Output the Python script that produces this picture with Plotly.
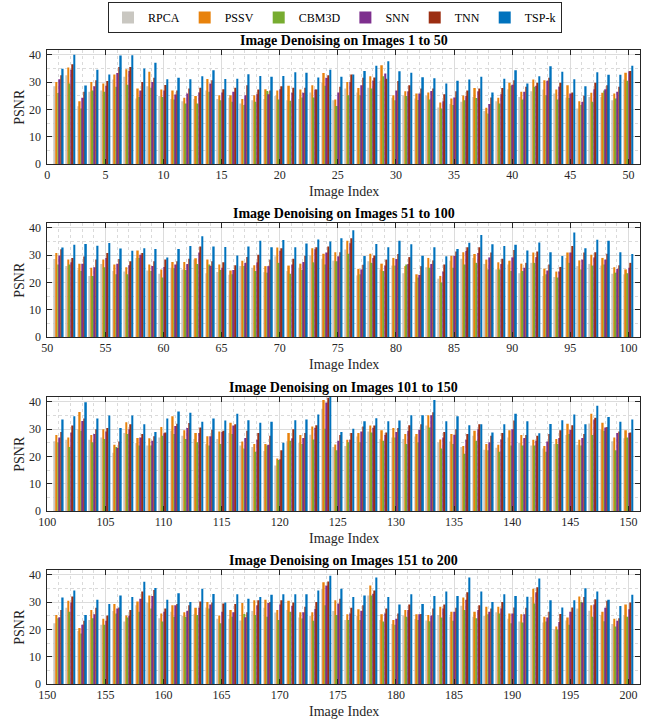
import plotly.graph_objects as go

methods = ["RPCA", "PSSV", "CBM3D", "SNN", "TNN", "TSP-k"]
colors = ["#C9C7C1", "#E8820C", "#77AC30", "#7E2F8E", "#9C2E12", "#0072BD"]

rpca = [28.5, 32.6, 21.2, 26.5, 27, 31, 32, 24, 28.5, 24.9,
        23.8, 23, 23.8, 27, 23.8, 24.3, 22.2, 23.4, 23.8, 24.9,
        23.4, 23.8, 26.2, 29.8, 23.4, 27.7, 26.2, 28, 30.5, 24.3,
        25, 24, 24.9, 20.7, 22, 22.8, 24.6, 19.4, 23, 27.4,
        24.6, 26.7, 27.3, 25.9, 24.4, 20.4, 24.6, 24.6, 23.4, 31,
        28.6, 26, 24.8, 22.4, 26.8, 24.2, 24, 29, 24.4, 23.2,
        25.4, 24.8, 28.4, 23.4, 23.8, 22.8, 26, 25.4, 23.8, 29.6,
        24.2, 25.4, 29.9, 28.7, 28, 32.1, 22.6, 27.8, 24.8, 26.2,
        23.4, 20.2, 25.6, 21.4, 28, 28.7, 29, 26.8, 24.8, 26.6,
        23.4, 27.2, 22.4, 22, 29, 26, 26.8, 26.2, 23.2, 23,
        25.6, 26.1, 30, 26.1, 27, 21.4, 28.6, 24.9, 24, 27,
        29.4, 27.6, 26.4, 24.6, 26.4, 28.6, 24, 23.5, 22, 16.7,
        25.6, 25, 28, 37.5, 23.5, 23.8, 27.3, 29.2, 26.4, 27,
        26.4, 27.3, 31.4, 25, 25.5, 23.5, 27.6, 22.5, 23.2, 27,
        25, 24, 22.9, 24.6, 27.9, 24.3, 32.1, 29.8, 25.6, 26.7,
        22.3, 28, 19.4, 23.5, 21.7, 26.8, 22.9, 28.9, 29.7, 24.1,
        26.5, 25, 25.6, 28.1, 23.9, 23.9, 23.3, 26.8, 28, 26.2,
        27.1, 24.4, 25, 34.9, 26.8, 23.5, 25, 32.5, 23.5, 22,
        25, 23.8, 23.3, 25.3, 24.7, 28.7, 24.7, 25, 26.3, 23.9,
        22.9, 31.9, 22.6, 20, 23.3, 27.7, 26.9, 25.1, 22, 25.1]

pssv = [30.1, 35.4, 23, 30.1, 29.5, 32.8, 34.8, 27.7, 33.8, 27.3,
        27, 24.3, 24.9, 31.2, 25.2, 25.2, 23.8, 25.2, 27.4, 27,
        28.7, 27.3, 28.9, 33.4, 23.7, 30.1, 27.9, 32.2, 36.2, 25.2,
        26.7, 25.9, 26.2, 22.6, 24, 25.1, 27.9, 20.6, 24.3, 29.8,
        26.5, 31, 30.7, 27.3, 28.9, 23, 26.1, 26.1, 25.9, 33.5,
        30.8, 28.4, 26.9, 25.4, 28.4, 26.6, 25.6, 31.7, 26.6, 24.8,
        27.5, 27.5, 28.9, 28.4, 26.6, 24.4, 28, 26.3, 26, 32.8,
        26.2, 26.9, 32.6, 30.5, 31.1, 35.3, 25, 30.5, 26.9, 29,
        26, 23, 29, 22.4, 29.8, 31.1, 30.4, 28.4, 27.4, 28,
        26.9, 31, 25.1, 24, 31, 28.1, 30.2, 29, 25.6, 24.8,
        27.9, 27, 36.3, 27.9, 30, 24.3, 32.6, 26.8, 26.7, 30.8,
        34.8, 29.6, 28.6, 27.4, 29.2, 32.4, 25.5, 24.6, 24.6, 19.3,
        28.6, 27.9, 31, 40.7, 24.4, 26.1, 28.6, 31.4, 29.6, 30.4,
        28.2, 28.2, 35.1, 26.2, 28.2, 23.8, 29.4, 24.6, 24.3, 29.6,
        27.9, 26.1, 23.8, 26.4, 32, 26.1, 35.7, 32.4, 27, 29.6,
        25.3, 30.5, 20.5, 27.1, 23.9, 29.3, 25.1, 30.3, 32.5, 25.9,
        28.9, 26.3, 28, 30.1, 25.1, 27.1, 29.7, 30.7, 30.9, 27.1,
        30.5, 26.3, 26.3, 37.3, 30.7, 25.6, 27.4, 36.1, 25.6, 23.5,
        27.1, 25.6, 25.3, 28.3, 26.5, 31.7, 26.5, 28.3, 28.3, 25.9,
        25.6, 34.9, 24.7, 21.1, 24.4, 32.1, 28.9, 26.5, 23.9, 29.2]

cbm3d = [26, 29.5, 20.4, 27, 26.5, 28.3, 29.1, 24.6, 28, 24.6,
         23.7, 22.2, 22.2, 26.5, 23.4, 22.8, 21.6, 22.8, 26.8, 23.7,
         23.2, 24.4, 24.4, 28.7, 21.3, 25.2, 25.2, 27.7, 32.2, 23.4,
         24.9, 23.5, 23.7, 20.4, 21.6, 23.4, 24.2, 18.5, 22.2, 28.7,
         23.7, 28.3, 25.2, 23.7, 24.2, 21.6, 22.8, 27, 24, 30.5,
         26.6, 26.6, 24.2, 22.4, 25.6, 23, 23, 29, 24.2, 21.8,
         25.2, 24.6, 26.8, 26.6, 24.6, 23, 26, 24.2, 23.6, 27.2,
         23.2, 24.6, 27.4, 26.6, 27.8, 30.5, 23, 27.2, 24.2, 26.2,
         26.6, 21.8, 25.4, 20, 25.4, 26.6, 27.2, 24.8, 24.8, 24.2,
         24.2, 27.2, 23, 21.8, 27.2, 24.8, 26.2, 26.6, 23.6, 23.4,
         25.2, 23.5, 29.4, 25.2, 26.4, 23.5, 28.2, 24, 24, 27.6,
         28.2, 26.4, 25.2, 24, 24.6, 28.2, 22.9, 21.7, 24, 18.7,
         25.8, 24.6, 26.2, 30.2, 22.3, 25.2, 25.2, 28.8, 25.8, 27,
         24.6, 25.2, 30.6, 22.9, 24.6, 21, 25.8, 22.3, 21.7, 24,
         24, 24, 21.7, 24.6, 28.2, 24, 27.9, 29.4, 22.3, 27,
         24.1, 26.5, 18.5, 24.1, 21.7, 25.9, 24.4, 26.5, 27.7, 22.9,
         24.7, 24.7, 25.3, 27.7, 22.3, 24.7, 25.7, 25.3, 24.7, 23.5,
         26.5, 24, 23.2, 28.9, 25.3, 23.5, 23.5, 32.5, 22.9, 21.7,
         24.7, 23.5, 23, 24.4, 23.2, 27.1, 24.1, 25.6, 25.9, 22.3,
         22.6, 29.5, 22.9, 20, 21.7, 30.1, 24.7, 23, 21.1, 24.7]

snn = [31.1, 34.6, 24.3, 28.5, 28.7, 33.4, 34.1, 27, 30.1, 27,
       25.5, 25.9, 26.2, 29.5, 26.2, 26.5, 25.2, 25.6, 25.6, 27.4,
       26.1, 26.1, 27.3, 31.6, 26.2, 30.1, 28.9, 30.5, 33.2, 27,
       26.7, 25.9, 26.8, 23, 24.4, 25, 26.7, 22, 25.6, 29.1,
       26.5, 28.7, 30.5, 28.3, 25.9, 22.8, 27.4, 27.4, 26.5, 34,
       29.9, 27.4, 26.9, 25.6, 29, 26.9, 26.3, 30.2, 26, 25.7,
       26.6, 26.8, 31, 26, 25.4, 24.6, 27.2, 27.4, 26, 31.6,
       26.6, 27.5, 32.2, 31, 29.6, 34.4, 24.8, 29, 26.2, 28.6,
       26.8, 22.8, 26.8, 24, 29.8, 31.6, 30.8, 29.2, 26.8, 29.2,
       25.4, 29.3, 24.4, 24, 31, 28.4, 29.2, 28.4, 25, 25.4,
       27, 28.8, 33, 28.2, 29.2, 23.1, 30, 27, 25.8, 28.5,
       31.2, 30.4, 28.6, 27.4, 29, 31.4, 26.8, 26.1, 24.3, 19,
       26.7, 26.8, 30.4, 39.8, 25.8, 26.1, 29.2, 30.4, 27.9, 29,
       29.4, 29.8, 35.1, 27, 28, 26.1, 30, 25.2, 26.2, 30,
       26.8, 25.8, 25.5, 26.8, 29.8, 26.8, 33.6, 30.6, 28.6, 28.6,
       24.5, 29.9, 21.7, 25.6, 23.2, 27.7, 25.1, 31.3, 32.3, 26.5,
       28.9, 26.9, 28, 29.2, 26.5, 26.3, 24.5, 28.9, 29.7, 29.2,
       28.7, 26.3, 27.5, 36.1, 29.5, 25.9, 26.9, 33.1, 25.9, 23.9,
       27.1, 25.6, 25.1, 27.7, 26.5, 30.9, 27.1, 26.5, 27.7, 25.9,
       25.6, 33.7, 24.4, 22.7, 26.5, 29.9, 29.2, 28, 23.2, 27.4]

tnn = [32.6, 36.6, 26.5, 30.7, 30.4, 35.6, 35.6, 30.1, 31.6, 29,
       27, 27.7, 28, 30.7, 27.4, 28, 28.9, 27.3, 27, 28.5,
       28, 28, 27.3, 32.6, 28.3, 32.8, 31.6, 31.7, 31.3, 30.4,
       28.9, 27.7, 27.7, 25.6, 26.7, 27, 27.7, 24.4, 27.9, 30.7,
       28.3, 29.8, 31.6, 29.8, 26.2, 25, 29.8, 28.9, 28.3, 34.1,
       32.2, 29, 29.5, 28.4, 30.8, 28.6, 27.8, 30.8, 27.8, 28.4,
       27.8, 28.7, 33.2, 27.8, 27.4, 26.3, 29.3, 30.2, 28.4, 32.6,
       28.7, 29.8, 32.9, 33.2, 31.1, 36.2, 26.5, 29.9, 28.4, 30.4,
       29.3, 26, 28.1, 26.6, 31.4, 32.9, 32.9, 31, 28.7, 31.9,
       27.2, 31.4, 26.6, 25.7, 33.4, 31, 31.1, 30.5, 26.3, 27.2,
       29, 31.4, 33.9, 30, 30.4, 25.5, 31.8, 28.2, 27.4, 28.8,
       32, 32.3, 30.6, 29.8, 29.4, 31.8, 29.4, 28.6, 27.6, 22.3,
       30, 28.6, 31.5, 41.5, 27.9, 28.6, 31, 31.4, 28.8, 30.4,
       31.5, 31.8, 36.2, 29, 30, 28.2, 31.8, 27.6, 28.6, 33.2,
       27.9, 27.6, 28.2, 29.6, 31.5, 28.2, 34.2, 30.8, 29.2, 28.8,
       27.1, 32.1, 23.2, 28, 25.1, 28.1, 27.1, 33.9, 34.5, 27.7,
       29.3, 28.9, 30.3, 29.9, 29.5, 29.3, 26.3, 30.7, 30.1, 30.7,
       29.9, 28.3, 30.1, 37.6, 31.3, 28, 28.9, 34.3, 27.7, 25.9,
       29.2, 25.7, 27.7, 29.2, 28, 33.7, 28.9, 27.7, 30.1, 28.1,
       28, 35.5, 26.5, 25.7, 28.1, 31.9, 31.1, 30.5, 24.1, 29.9]

tspk = [34.9, 40.1, 28.8, 34.6, 32.8, 39.8, 39.9, 35, 37.1, 31.1,
        31.6, 31.1, 32.2, 34.4, 31.2, 31.3, 32.9, 32.3, 32, 32.3,
        33.7, 33.5, 31.7, 34.6, 32, 32.8, 34.1, 36, 37.7, 34,
        33.5, 31.8, 31.5, 29.5, 30.5, 31, 32, 26.2, 31.3, 34.4,
        29.5, 32.2, 35.9, 33.8, 31.1, 28.5, 33.7, 32.7, 32.7, 36,
        32.8, 33.8, 34.1, 33.5, 34.5, 32.5, 31.6, 32.6, 32.3, 29.2,
        32.3, 33.4, 37, 33.2, 33, 29.9, 33.2, 35.3, 32.9, 35.6,
        32.9, 34.3, 35.8, 35, 36.2, 39.2, 29.7, 34.1, 32.9, 35.3,
        34, 29.8, 32.9, 29.6, 32.3, 34.6, 37.4, 34, 33.4, 33.8,
        31.7, 34.7, 31.1, 29.7, 38.3, 32.6, 35.7, 35.3, 31.1, 30.4,
        33.6, 34.8, 39.9, 33.9, 35, 30.4, 35, 31.8, 29, 33.9,
        36.5, 36, 32.7, 33.9, 33.2, 35.7, 33.3, 32.4, 32.7, 25,
        33.3, 33.6, 35.4, 42, 29, 30.2, 32.9, 34, 32.9, 33.2,
        35.1, 35.1, 40.7, 32.9, 34.8, 31.5, 31.8, 28.8, 31.8, 35.7,
        32.9, 28.5, 31.9, 33.3, 35.4, 31.8, 38.6, 34.5, 32.7, 33.6,
        31.7, 34.3, 25.3, 30.9, 29.3, 32.5, 31.9, 37.5, 35.2, 30.9,
        33.3, 30.1, 34.9, 33, 29.9, 32.9, 31.3, 31.9, 32.7, 32.9,
        32.9, 32.9, 34.3, 39.7, 34.9, 31.9, 32.5, 39.1, 31.9, 29.2,
        32.9, 29.3, 32.3, 33.9, 32.3, 39.1, 33.9, 30.1, 32.9, 32.3,
        32, 38.7, 30.7, 28.1, 30.7, 35.1, 33.9, 30.9, 28.6, 32.7]

image_index = list(range(1, 201))
panel_titles = ["Image Denoising on Images 1 to 50",
                "Image Denoising on Images 51 to 100",
                "Image Denoising on Images 101 to 150",
                "Image Denoising on Images 151 to 200"]
y_ticks = [0, 10, 20, 30, 40]

series = [rpca, pssv, cbm3d, snn, tnn, tspk]

W, H = 655, 721
FONT = "Liberation Serif"
zero_px = [164, 337, 511, 684]
panel_h = 114.5
x_left, x_right = 47.3, 640


def fy(px):
    return 1 - px / H


fig = go.Figure()
for p in range(4):
    lo, hi = p * 50, p * 50 + 50
    ax = "" if p == 0 else str(p + 1)
    for m, (name, vals) in enumerate(zip(methods, series)):
        fig.add_trace(go.Bar(
            x=image_index[lo:hi], y=vals[lo:hi], name=name,
            marker=dict(color=colors[m], line=dict(width=0)),
            xaxis="x" + ax, yaxis="y" + ax,
            showlegend=(p == 0), legendgroup=name,
        ))
    z = zero_px[p]
    t = z - panel_h
    xa = dict(domain=[x_left / W, x_right / W], range=[lo, hi + 1], anchor="y" + ax,
              tickmode="array", tickvals=list(range(lo, hi + 1, 5)),
              ticks="inside", ticklen=5, tickcolor="#262626",
              showline=True, linecolor="#262626", linewidth=1, mirror="allticks",
              showgrid=True, gridcolor="#DCDCDC", gridwidth=1,
              minor=dict(dtick=1, tick0=0, showgrid=True, griddash="dot",
                         gridcolor="#DADADA", gridwidth=1),
              tickfont=dict(family=FONT, size=12, color="#262626"),
              zeroline=False, automargin=False)
    ya = dict(domain=[fy(z), fy(t)], range=[0, 42], anchor="x" + ax,
              tickmode="array", tickvals=y_ticks,
              ticks="inside", ticklen=5, tickcolor="#262626",
              showline=True, linecolor="#262626", linewidth=1, mirror="allticks",
              showgrid=True, gridcolor="#DCDCDC", gridwidth=1,
              minor=dict(dtick=5, tick0=0, showgrid=True, griddash="dot",
                         gridcolor="#DADADA", gridwidth=1),
              tickfont=dict(family=FONT, size=12, color="#262626"),
              zeroline=False, automargin=False, ticklabelstandoff=3)
    fig.layout["xaxis" + ax] = xa
    fig.layout["yaxis" + ax] = ya
    fig.add_annotation(text="<b>" + panel_titles[p] + "</b>", x=(x_left + x_right) / 2 / W,
                       y=fy(t - 9), xref="paper", yref="paper", showarrow=False,
                       font=dict(family=FONT, size=14, color="black"),
                       xanchor="center", yanchor="middle")
    fig.add_annotation(text="Image Index", x=(x_left + x_right) / 2 / W,
                       y=fy(z + 27), xref="paper", yref="paper", showarrow=False,
                       font=dict(family=FONT, size=14, color="#262626"),
                       xanchor="center", yanchor="middle")
    fig.add_annotation(text="PSNR", x=20 / W, y=fy((z + t) / 2), xref="paper", yref="paper",
                       showarrow=False, textangle=-90,
                       font=dict(family=FONT, size=14, color="#262626"),
                       xanchor="center", yanchor="middle")

fig.update_layout(
    width=W, height=H, margin=dict(l=0, r=0, t=0, b=0, autoexpand=False),
    paper_bgcolor="white", plot_bgcolor="white",
    barmode="group", bargap=0.2, bargroupgap=0,
    font=dict(family=FONT, size=12, color="#262626"),
    legend=dict(orientation="h", x=335 / W, xanchor="center", y=fy(2), yanchor="top",
                bordercolor="#262626", borderwidth=1, bgcolor="white",
                font=dict(family=FONT, size=12, color="black"),
                itemwidth=30, tracegroupgap=0),
)

fig.write_html("out.html", config={"displayModeBar": False},
               post_script="document.body.style.margin='0px';")
